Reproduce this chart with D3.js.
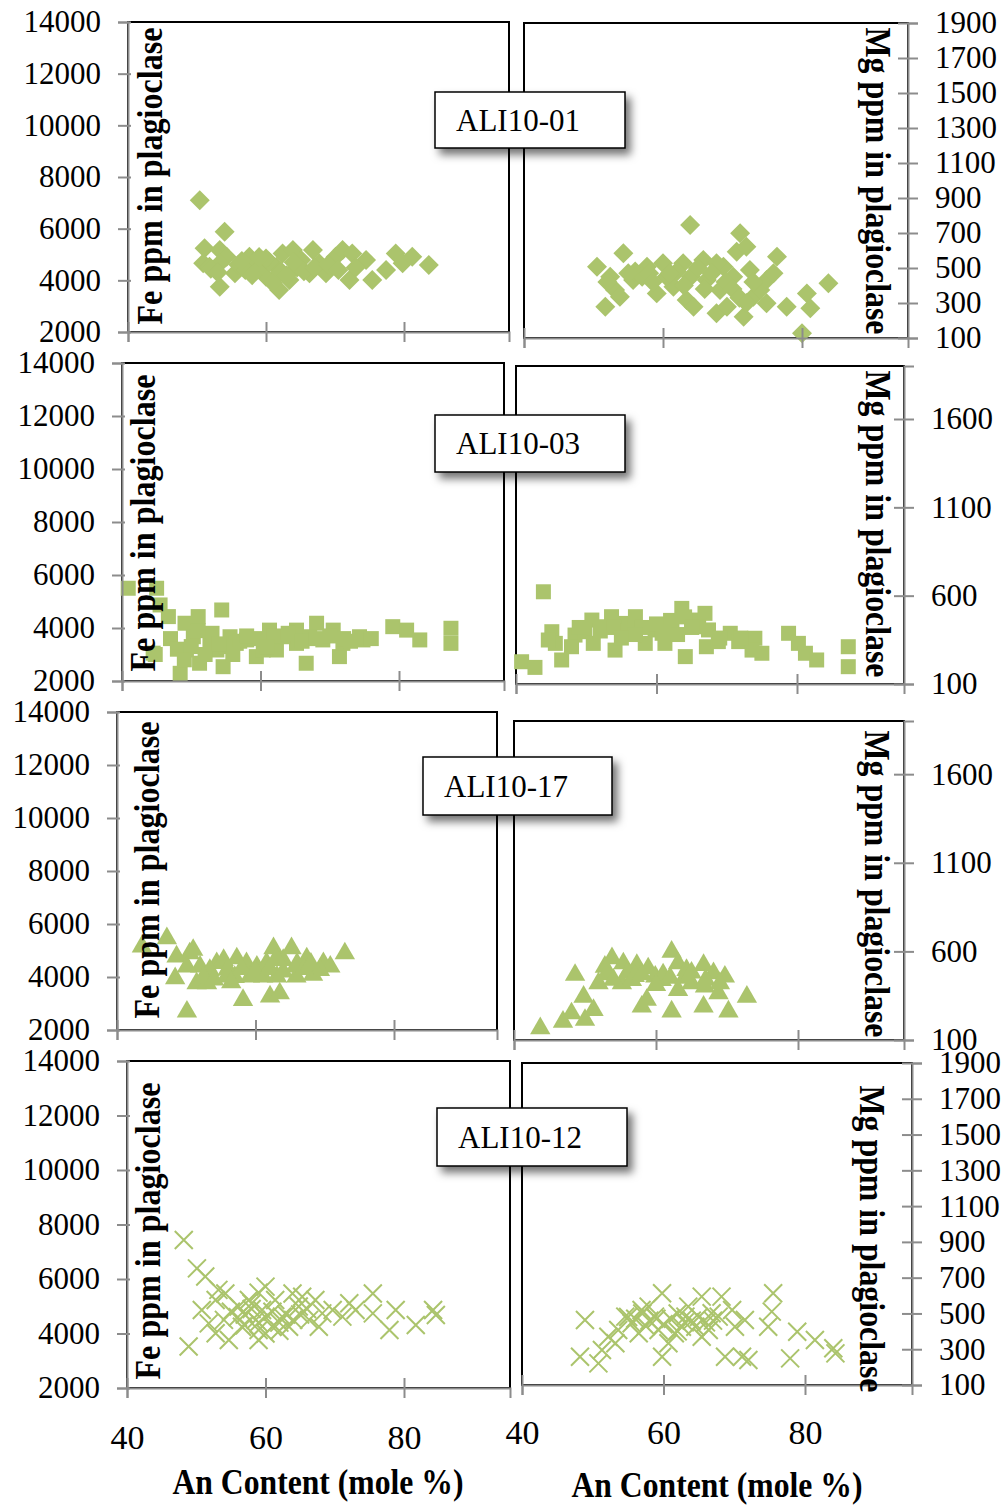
<!DOCTYPE html>
<html>
<head>
<meta charset="utf-8">
<script src="https://cdn.jsdelivr.net/npm/d3@7"></script>
<style>
body { margin: 0; background: #fff; }
svg text { font-family: "Liberation Serif", "Times New Roman", serif; fill: #000; }
</style>
</head>
<body>
<svg id="chart" width="1005" height="1507"></svg>
<script>
// tick values
const anTicks = [40, 60, 80];
const feTicks = [2000, 4000, 6000, 8000, 10000, 12000, 14000];
const mgTicksFine = [100, 300, 500, 700, 900, 1100, 1300, 1500, 1700, 1900];
const mgTicksCoarse = [100, 600, 1100, 1600];
const samples = ["ALI10-01", "ALI10-03", "ALI10-17", "ALI10-12"];

// [An mole %, ppm]
const ali01Fe = [[50.4,7100],[54.0,5880],[53.3,3750],[51.1,5240],[53.3,5170],[54.3,4910],[50.9,4660],[51.8,4530],[53.3,4660],
  [55.5,4270],[57.6,4910],[58.6,4660],[60.0,4140],[61.5,4530],[62.4,5040],[63.9,5170],[61.9,3630],[63.4,4010],[65.1,4790],
  [66.8,5170],[67.7,4660],[66.3,4270],[68.7,4270],[70.1,4910],[71.1,5170],[72.5,5040],[72.1,4010],[74.5,4790],[75.4,4010],
  [77.4,4400],[78.8,5040],[79.8,4660],[81.2,4910],[83.6,4590],[56,4600],[57,4400],[59,4450],[60.5,4700],[62,4300],
  [64.5,4500],[65.5,4350],[67,4500],[69,4600],[70.5,4400],[73,4500],[56.5,4750],[58,4200],[61,3900],[63,4200],[64,4700],
  [60,4850],[59,4900],[52,4450],[53,4300]];
const ali01Mg = [[50.5,507],[51.7,279],[54.3,584],[52.4,450],[53.1,374],[53.8,336],[55.7,431],[57.7,507],[59.1,355],
  [60.0,527],[61.5,393],[62.9,527],[63.9,746],[63.4,317],[64.4,279],[65.8,546],[66.3,431],[67.7,241],[68.2,374],[69.2,279],
  [68.7,507],[70.1,450],[71.1,698],[70.6,593],[72.0,622],[72.5,489],[71.6,222],[73.0,336],[74.0,374],[74.9,431],[75.9,470],
  [76.4,565],[74.9,298],[77.8,279],[80.0,127],[80.7,355],[81.2,270],[83.8,413],[67.7,527],[56,480],[57,450],[58,470],
  [60.5,450],[62,480],[64,450],[65,500],[67,470],[69,420],[58.5,420],[61,470],[63,400],[66,380],[70,380],[73,420],[55,470],
  [52,420],[71,330],[72,300]];
const ali03Fe = [[40.9,5500],[45.0,5500],[45.5,4870],[46.7,4430],[49.1,4180],[51.0,4430],[54.4,4680],[44.5,3050],[48.4,2290],
  [49.3,3170],[51.2,2670],[52.7,3550],[54.6,2540],[55.6,3670],[56.5,3420],[59.4,2920],[61.3,3920],[62.3,3170],[65.2,3920],
  [66.6,2670],[68.1,4180],[65.2,3420],[70.5,3920],[71.4,2920],[71.9,3420],[74.8,3550],[79.1,4050],[81.1,3920],[83.0,3550],
  [87.5,3990],[87.5,3420],[74.3,3670],[69.0,3550],[58.0,3550],[50.3,3670],[53.7,3170],[60.4,3170],[63.3,3670],[67.1,3670],
  [47,3600],[48,3200],[50,3300],[52,3000],[53,3800],[55,3300],[57,3500],[58,3700],[60,3600],[62,3700],[64,3800],[66,3500],
  [68,3600],[70,3700],[72,3600],[73,3500],[76,3600],[56,3000],[61,3300],[49,2800],[51,3900],[54,3400],[44.8,3000]];
const ali03Mg = [[40.8,226],[42.7,194],[43.9,622],[45.1,396],[45.6,330],[46.5,236],[48.4,377],[49.8,396],[51.0,330],
  [52.7,424],[54.1,292],[55.1,443],[57.0,406],[58.4,330],[61.2,330],[62.2,424],[63.6,528],[64.1,255],[65.0,462],[66.9,500],
  [67.1,311],[68.8,340],[70.5,387],[71.7,340],[74.0,359],[75.0,274],[73.6,292],[78.8,387],[80.2,330],[81.2,274],[82.8,236],
  [87.3,311],[87.3,198],[66.0,424],[59.8,406],[57.0,481],[53.6,481],[50.8,462],[47.9,311],[44.6,349],[60.8,387],[67.4,406],
  [49,420],[52,400],[54,420],[56,400],[58,420],[60,440],[62,460],[64,480],[65,420],[63,380],[61,400],[57,380],[55,360],
  [69,360],[72,360]];
const ali17Fe = [[43.6,5150],[47.2,5460],[48.4,3950],[50.1,2690],[48.6,4770],[50.5,4890],[51.0,5020],[52.0,4390],[51.5,3760],
  [53.0,3760],[54.4,4520],[55.4,4640],[57.3,4700],[58.7,4520],[58.2,3130],[59.2,4010],[62.1,3260],[62.6,5080],[63.5,3380],
  [64.0,4640],[65.2,5080],[65.9,4390],[67.4,4700],[68.3,4080],[69.8,4520],[70.8,4390],[72.9,4890],[61.1,4010],[63.1,4010],
  [55.8,4010],[53.4,4260],[60.2,4390],[61.6,4520],[65.9,4010],[69.3,4260],[50.1,4390],[52.5,4000],[54,3900],[56,4300],
  [57,4000],[58,4300],[60,4200],[62,4300],[64,4200],[66,4500],[67,4300],[56.5,3800],[63,4700],[68,4500]];
const ali17Mg = [[43.7,166],[46.9,203],[48.1,250],[48.6,467],[49.8,344],[50.0,213],[51.2,269],[52.8,513],[53.8,561],
  [55.4,532],[57.3,523],[58.9,504],[58.0,288],[58.7,326],[62.2,598],[62.2,260],[63.1,532],[64.3,495],[66.7,523],[66.7,288],
  [68.1,476],[69.7,457],[70.2,260],[72.8,344],[60.8,438],[65.0,420],[68.8,363],[51.9,420],[55.2,420],[59.9,457],[63.1,382],
  [66.9,401],[56.6,438],[53,470],[54,440],[56,480],[57,460],[61,470],[62,450],[64,450],[65,480],[67,440],[69,420],[60,410],
  [58,470]];
const ali12Fe = [[48.2,7430],[50.1,6390],[51.3,6090],[53.2,5600],[52.8,5230],[54.2,5470],[50.8,4860],[51.8,4370],[48.9,3520],
  [52.8,4010],[54.7,3760],[56.1,4990],[57.6,5230],[58.6,4500],[59.0,3760],[60.0,5720],[59.5,4860],[61.0,4250],[62.4,4620],
  [63.9,5470],[63.4,4250],[64.8,4990],[66.3,4500],[67.2,5230],[68.2,4740],[67.7,4250],[69.7,4860],[71.1,4620],[72.1,5110],
  [73.0,4860],[75.5,5470],[75.5,4740],[77.9,4130],[78.8,4860],[81.7,4310],[84.2,4860],[84.6,4680],[61.4,5230],[56.6,4250],
  [65.3,5350],[59.0,4130],[55,4800],[56,4600],[57,4700],[58,4900],[59,4400],[60,4600],[61,4800],[62,4400],[63,4700],
  [64,4500],[65,4700],[66,4900],[58,5100],[60,4000],[57,4300],[59,5500],[62,4100],[54,4500]];
const ali12Mg = [[48.9,463],[48.2,258],[50.8,221],[51.3,296],[52.2,370],[53.6,407],[54.6,482],[55.5,445],[56.9,519],
  [57.9,538],[58.8,482],[59.8,613],[59.8,258],[59.3,407],[60.7,333],[61.6,389],[63.1,482],[63.5,538],[64.5,426],[65.4,594],
  [65.4,370],[66.8,501],[68.2,594],[67.8,482],[68.7,258],[70.1,426],[71.5,463],[72.0,240],[71.1,258],[74.8,426],[75.5,613],
  [75.3,510],[77.9,249],[78.9,398],[81.4,352],[84.0,305],[84.3,277],[56.5,389],[53.2,333],[62.6,426],[66.4,407],[69.7,519],
  [55,480],[56,470],[57,500],[58,460],[60,440],[61,470],[62,500],[63,450],[64,460],[65,480],[66,450],[67,460],[59,470],
  [57.5,430],[62,400]];

const green = "#abc46c";
const grey = "#8c8c8c";
const serif = '"Liberation Serif", "Times New Roman", serif';

let svg = d3.select("#chart");

let filter = svg.append("defs").append("filter").attr("id", "shadow")
    .attr("x", "-20%").attr("y", "-30%").attr("width", "150%").attr("height", "180%");
filter.append("feDropShadow").attr("dx", 5).attr("dy", 6).attr("stdDeviation", 4)
    .attr("flood-color", "#000").attr("flood-opacity", 0.55);

// pixel layout of each row
let rows = [
    {fe: ali01Fe, mg: ali01Mg, shape: "diamond", mgTicks: mgTicksFine,
     left: {x40: 128, x80: 404, xR: 509, top: 22, bot: 332, tx: 162, ty: 176},
     right: {x40: 524, x80: 802, xR: 908, top: 23, bot: 338, tx: 866, ty: 181},
     box: {x: 435, y: 92, w: 190, h: 56}},
    {fe: ali03Fe, mg: ali03Mg, shape: "square", mgTicks: mgTicksCoarse,
     left: {x40: 122, x80: 399, xR: 504, top: 363, bot: 681, tx: 155, ty: 523},
     right: {x40: 516, x80: 797, xR: 904, top: 366, bot: 684, tx: 866, ty: 524},
     box: {x: 435, y: 415, w: 190, h: 57}},
    {fe: ali17Fe, mg: ali17Mg, shape: "triangle", mgTicks: mgTicksCoarse,
     left: {x40: 117, x80: 394, xR: 497, top: 712, bot: 1030, tx: 159, ty: 870},
     right: {x40: 514, x80: 798, xR: 904, top: 721, bot: 1040, tx: 865, ty: 884},
     box: {x: 423, y: 757, w: 189, h: 58}},
    {fe: ali12Fe, mg: ali12Mg, shape: "cross", mgTicks: mgTicksFine,
     left: {x40: 127, x80: 404, xR: 510, top: 1061, bot: 1388, tx: 160, ty: 1231},
     right: {x40: 522, x80: 805, xR: 912, top: 1063, bot: 1385, tx: 860, ty: 1239},
     box: {x: 437, y: 1108, w: 190, h: 58}}
];

function drawPoints(g, pts, x, y, shape) {
    let sel = g.selectAll("path.pt").data(pts).enter().append("path").attr("class", "pt")
        .attr("transform", d => "translate(" + x(d[0]) + "," + y(d[1]) + ")" + (shape === "diamond" ? " rotate(45)" : ""));
    if (shape === "cross") {
        sel.attr("d", "M-9,-9L9,9M-9,9L9,-9").attr("fill", "none").attr("stroke", green).attr("stroke-width", 2);
    } else {
        let sym = shape === "triangle" ? d3.symbol(d3.symbolTriangle, 180)
            : shape === "square" ? d3.symbol(d3.symbolSquare, 225)
            : d3.symbol(d3.symbolSquare, 200);
        sel.attr("d", sym).attr("fill", green);
    }
}

function styleAxis(a, size) {
    a.attr("font-family", serif).attr("font-size", size);
    a.selectAll(".domain").attr("stroke", grey).attr("stroke-width", 2);
    a.selectAll(".tick line").attr("stroke", grey).attr("stroke-width", 2);
}

function drawPanel(p, pts, isLeft, row, last) {
    let x = d3.scaleLinear().domain([40, 80]).range([p.x40, p.x80]);
    x.domain([40, x.invert(p.xR)]).range([p.x40, p.xR]);
    let y = d3.scaleLinear()
        .domain(isLeft ? [2000, 14000] : [100, 1900])
        .range([p.bot, p.top]);

    let g = svg.append("g");
    g.append("rect")
        .attr("x", p.x40).attr("y", p.top)
        .attr("width", p.xR - p.x40).attr("height", p.bot - p.top)
        .attr("fill", "#fff").attr("stroke", "#000").attr("stroke-width", 2);

    drawPoints(g, pts, x, y, row.shape);

    // x axis
    let xa = g.append("g")
        .attr("transform", "translate(0," + p.bot + ")")
        .call(d3.axisBottom(x).tickValues(anTicks).tickSizeOuter(0).tickSize(10)
            .tickFormat(last ? d3.format("d") : () => ""));
    styleAxis(xa, 34);
    xa.selectAll(".tick line").attr("y1", -10).attr("y2", 10);
    xa.selectAll(".tick text").attr("y", isLeft ? 49 : 47).attr("dy", "0.35em");

    // y axis
    let ya;
    if (isLeft) {
        ya = g.append("g").attr("transform", "translate(" + p.x40 + ",0)")
            .call(d3.axisLeft(y).tickValues(feTicks).tickFormat(d3.format("d")).tickSizeOuter(0).tickSize(10));
        styleAxis(ya, 31);
        ya.selectAll(".tick line").attr("x1", 3).attr("x2", -10);
        ya.selectAll(".tick text").attr("x", -27);
    } else {
        ya = g.append("g").attr("transform", "translate(" + p.xR + ",0)")
            .call(d3.axisRight(y).tickValues(row.mgTicks).tickFormat(d3.format("d")).tickSizeOuter(0).tickSize(10));
        styleAxis(ya, 31);
        ya.selectAll(".tick line").attr("x1", -10).attr("x2", 10);
        ya.selectAll(".tick text").attr("x", 27);
    }

    // axis title inside the plot area
    g.append("text")
        .attr("transform", "translate(" + p.tx + "," + p.ty + ") rotate(" + (isLeft ? -90 : 90) + ")")
        .attr("text-anchor", "middle")
        .attr("font-weight", "bold")
        .attr("font-size", 35)
        .attr("textLength", isLeft ? 297 : 307)
        .attr("lengthAdjust", "spacingAndGlyphs")
        .text(isLeft ? "Fe ppm in plagioclase" : "Mg ppm in plagioclase");
}

rows.forEach((row, i) => {
    drawPanel(row.left, row.fe, true, row, i === rows.length - 1);
    drawPanel(row.right, row.mg, false, row, i === rows.length - 1);
});

// sample name boxes on top
rows.forEach((row, i) => {
    let b = row.box;
    svg.append("rect")
        .attr("x", b.x).attr("y", b.y).attr("width", b.w).attr("height", b.h)
        .attr("fill", "#fff").attr("stroke", "#000").attr("stroke-width", 1.5)
        .attr("filter", "url(#shadow)");
    svg.append("text")
        .attr("x", b.x + 21).attr("y", b.y + b.h / 2)
        .attr("dy", "0.35em")
        .attr("font-size", 31)
        .text(samples[i]);
});

// x axis titles
[{x: 318, y: 1494}, {x: 717, y: 1497}].forEach(t => {
    svg.append("text")
        .attr("x", t.x).attr("y", t.y)
        .attr("text-anchor", "middle")
        .attr("font-weight", "bold")
        .attr("font-size", 35)
        .attr("textLength", 291)
        .attr("lengthAdjust", "spacingAndGlyphs")
        .text("An Content (mole %)");
});
</script>
</body>
</html>
